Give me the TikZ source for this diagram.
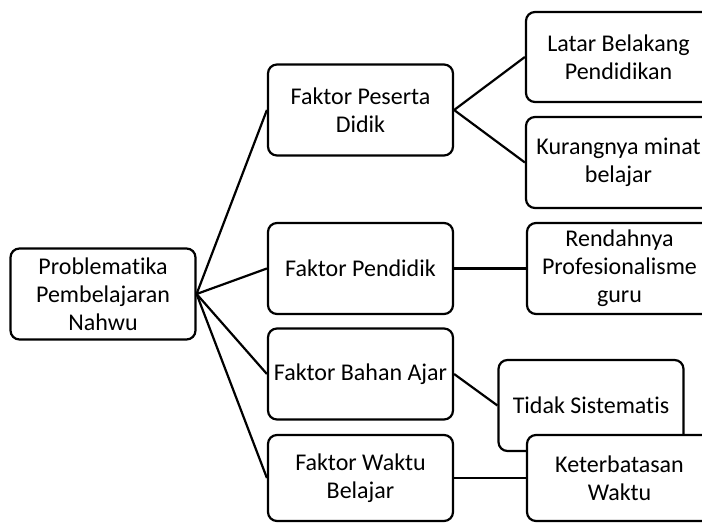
\documentclass[tikz,border=0pt]{standalone}
\usepackage{fontspec}
\setmainfont[Ligatures=NoCommon]{Carlito}
\usepackage{tikz}
\tikzset{
roundbox/.style={rectangle, rounded corners=9pt, draw=black!100, fill=white!100, line width=2.2pt, inner sep=2pt, minimum width=185pt, minimum height=91pt, align=center, font=\fontsize{24}{28}\selectfont},
branch/.style={black, line width=2.2pt},
}
\begin{document}
\begin{tikzpicture}[x=1pt,y=-1pt]
  \useasboundingbox (0,0) rectangle (702,524);
  \clip (0,0) rectangle (702,524);
  \node[roundbox] at (103,294) (root) {Problematika\\Pembelajaran\\Nahwu};

  \node[roundbox] at (360.5,110) (peserta) {Faktor Peserta\\Didik};
  \node[roundbox] at (360.5,268.5) (pendidik) {Faktor Pendidik};
  \node[roundbox] at (360.5,374) (bahan) {Faktor Bahan Ajar};
  \node[roundbox, minimum height=86pt] at (360.5,478) (waktu) {Faktor Waktu\\Belajar};

  \node[roundbox, minimum height=90pt] at (618.5,57) (latar) {Latar Belakang\\Pendidikan};
  \node[roundbox] at (618.5,162.5) (minat) {Kurangnya minat\\belajar};
  \node[roundbox] at (619.5,268.5) (profesi) {Rendahnya\\Profesionalisme\\guru};
  \node[roundbox] at (591,405.5) (sistematis) {Tidak Sistematis};
  \node[roundbox, minimum height=86pt] at (619.5,478) (batas) {Keterbatasan\\Waktu};

  \draw[branch] (root.east) to (peserta.west);
  \draw[branch] (root.east) to (pendidik.west);
  \draw[branch] (root.east) to (bahan.west);
  \draw[branch] (root.east) to (waktu.west);

  \draw[branch] (peserta.east) to (latar.west);
  \draw[branch] (peserta.east) to (minat.west);
  \draw[branch] (pendidik.east) to (profesi.west);
  \draw[branch] (bahan.east) to (sistematis.west);
  \draw[branch] (waktu.east) to (batas.west);
\end{tikzpicture}
\end{document}
